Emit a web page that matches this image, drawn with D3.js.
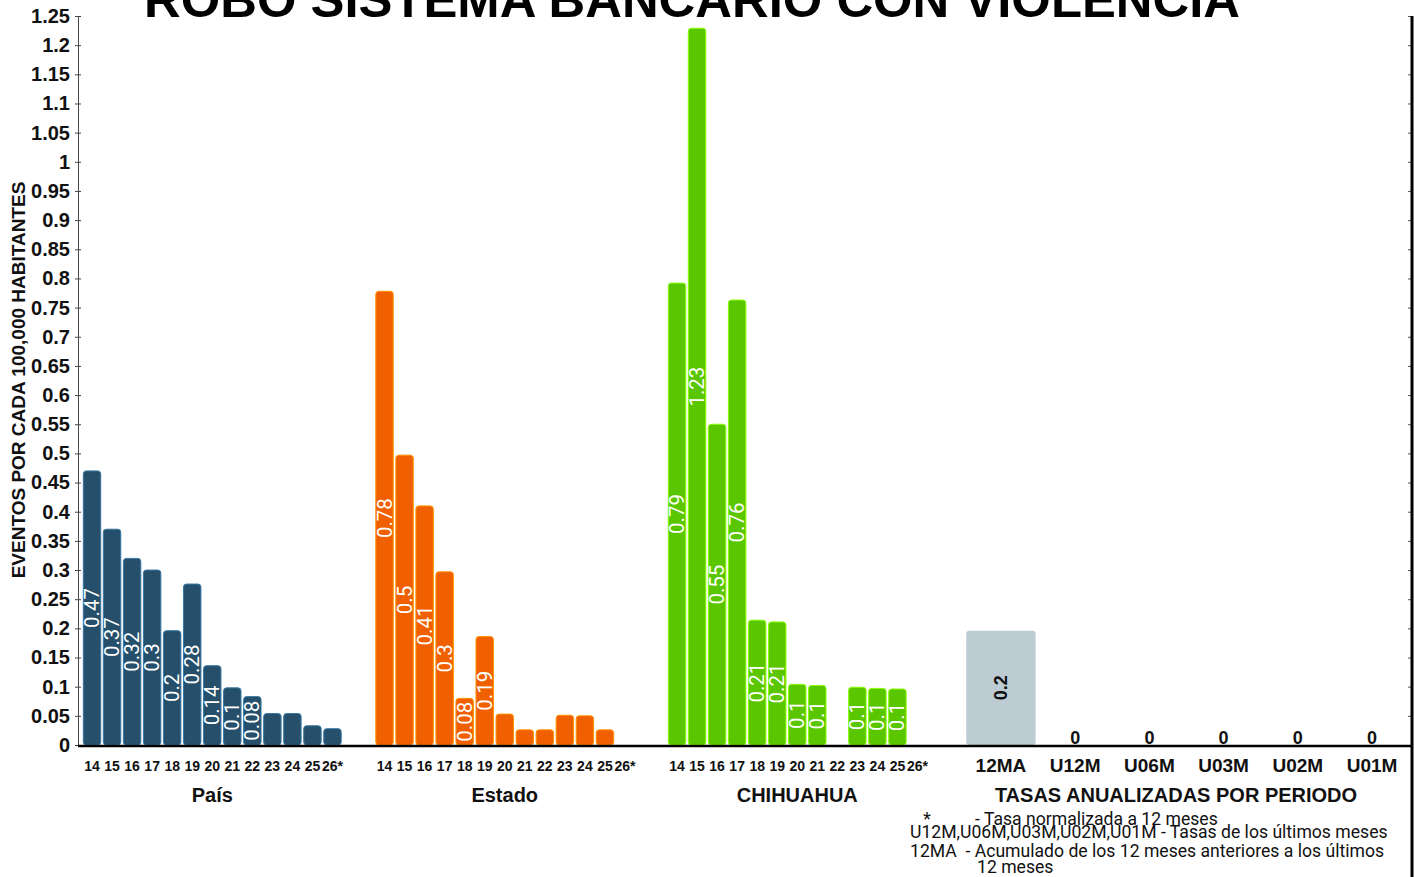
<!DOCTYPE html>
<html>
<head>
<meta charset="utf-8">
<script src="https://cdn.jsdelivr.net/npm/d3@7"></script>
<style>
  html, body { margin: 0; padding: 0; background: #fff; overflow: hidden; }
  svg { display: block; }
</style>
</head>
<body>
<svg id="chart" width="1414" height="877"></svg>
<script>
// ---------- DATA ----------
const title = "ROBO SISTEMA BANCARIO CON VIOLENCIA";
const yAxisTitle = "EVENTOS POR CADA 100,000 HABITANTES";
const years = ["14","15","16","17","18","19","20","21","22","23","24","25","26*"];
const groups = ["País", "Estado", "CHIHUAHUA"];
const paisValues      = [0.47, 0.37, 0.32, 0.30, 0.196, 0.276, 0.136, 0.098, 0.083, 0.054, 0.054, 0.033, 0.028];
const estadoValues    = [0.778, 0.497, 0.41, 0.297, 0.08, 0.186, 0.053, 0.026, 0.026, 0.051, 0.05, 0.026, 0];
const chihuahuaValues = [0.792, 1.229, 0.55, 0.763, 0.214, 0.211, 0.104, 0.102, 0, 0.099, 0.097, 0.096, 0];
const groupColors = ["#254f6b", "#f06000", "#59c600"];
const periods = ["12MA", "U12M", "U06M", "U03M", "U02M", "U01M"];
const periodValues = [0.196, 0, 0, 0, 0, 0];
const periodTitle = "TASAS ANUALIZADAS POR PERIODO";
const periodColor = "#bdcbd3";
const yTicks = d3.range(0, 26).map(i => i * 0.05);
const notes = [
  { t: "*", x: 927, y: 825, anchor: "middle" },
  { t: "- Tasa normalizada a 12 meses", x: 975, y: 825, anchor: "start" },
  { t: "U12M,U06M,U03M,U02M,U01M - Tasas de los últimos meses", x: 910, y: 838, anchor: "start" },
  { t: "12MA  - Acumulado de los 12 meses anteriores a los últimos", x: 910, y: 857, anchor: "start" },
  { t: "12 meses", x: 977, y: 873, anchor: "start" }
];

const seriesByGroup = [paisValues, estadoValues, chihuahuaValues];

// ---------- LAYOUT ----------
const svg = d3.select("#chart");
const plotLeft = 78, plotRight = 1411, baseY = 745, topY = 16;
const fmt = d3.format(".2~f");

const y = d3.scaleLinear().domain([0, 1.25]).range([baseY, topY]);
const xGroup = d3.scaleBand().domain(groups).range([66, 943.5]).padding(0);
const xYear = d3.scaleBand().domain(years).range([16, 276.5]).paddingInner(0.13).paddingOuter(0.065);
const xPeriod = d3.scaleBand().domain(periods).range([964, 1409]).paddingInner(0.065).paddingOuter(0.03);

// title
svg.append("text")
  .attr("x", 692).attr("y", 17)
  .attr("text-anchor", "middle")
  .attr("font-family", "Liberation Sans, Arial, sans-serif")
  .attr("font-weight", "bold").attr("font-size", 50.8)
  .attr("fill", "#000")
  .text(title);

// left axis
const yAxis = d3.axisLeft(y).tickValues(yTicks).tickFormat(fmt).tickSize(3).tickSizeOuter(0).tickPadding(5);
const gy = svg.append("g").attr("transform", `translate(${plotLeft},0)`).call(yAxis);
gy.select(".domain").attr("stroke", "#444").attr("stroke-width", 1);
gy.selectAll(".tick line").attr("stroke", "#444").attr("x1", 3);
gy.selectAll(".tick text")
  .attr("font-family", "Liberation Sans, Arial, sans-serif")
  .attr("font-weight", "bold").attr("font-size", 20).attr("fill", "#111");

// right axis
const yAxisR = d3.axisLeft(y).tickValues(yTicks).tickFormat("").tickSize(3).tickSizeOuter(0);
const gyr = svg.append("g").attr("transform", `translate(${plotRight},0)`).call(yAxisR);
gyr.select(".domain").remove();
gyr.selectAll(".tick line").attr("stroke", "#555");
svg.append("line")
  .attr("x1", plotRight + 1).attr("x2", plotRight + 1)
  .attr("y1", topY).attr("y2", 877)
  .attr("stroke", "#000").attr("stroke-width", 3);

// y axis title
svg.append("text")
  .attr("transform", `translate(25,380) rotate(-90)`)
  .attr("text-anchor", "middle")
  .attr("font-family", "Liberation Sans, Arial, sans-serif")
  .attr("font-weight", "bold").attr("font-size", 19)
  .attr("fill", "#111")
  .text(yAxisTitle);

// grouped year bars
groups.forEach((g, gi) => {
  const vals = seriesByGroup[gi];
  const color = groupColors[gi];
  const gg = svg.append("g").attr("transform", `translate(${xGroup(g)},0)`);
  const data = years.map((yr, i) => ({ yr, v: vals[i] }));

  gg.selectAll("rect").data(data.filter(d => d.v > 0)).join("rect")
    .attr("x", d => xYear(d.yr))
    .attr("y", d => y(d.v))
    .attr("width", xYear.bandwidth())
    .attr("height", d => y(0) - y(d.v))
    .attr("rx", 3).attr("ry", 3)
    .attr("fill", color)
    .attr("stroke", d3.color(color).brighter(1.2))
    .attr("stroke-width", 1);

  gg.selectAll("text.val").data(data.filter(d => d.v >= 0.06)).join("text")
    .attr("class", "val")
    .attr("transform", d => `translate(${xYear(d.yr) + xYear.bandwidth() / 2},${y(d.v / 2)}) rotate(-90)`)
    .attr("text-anchor", "middle")
    .attr("dominant-baseline", "central")
    .attr("font-family", "Roboto, sans-serif")
    .attr("font-size", 20.5)
    .attr("fill", "#fff")
    .text(d => fmt(d.v));

  gg.selectAll("text.yr").data(data).join("text")
    .attr("class", "yr")
    .attr("x", d => xYear(d.yr) + xYear.bandwidth() / 2)
    .attr("y", 771)
    .attr("text-anchor", "middle")
    .attr("font-family", "Liberation Sans, Arial, sans-serif")
    .attr("font-weight", "bold").attr("font-size", 14)
    .attr("fill", "#111")
    .text(d => d.yr);

  svg.append("text")
    .attr("x", xGroup(g) + xGroup.bandwidth() / 2)
    .attr("y", 802)
    .attr("text-anchor", "middle")
    .attr("font-family", "Liberation Sans, Arial, sans-serif")
    .attr("font-weight", "bold").attr("font-size", 20)
    .attr("fill", "#111")
    .text(g);
});

// period bars
const pdata = periods.map((p, i) => ({ p, v: periodValues[i] }));
svg.append("g").selectAll("rect").data(pdata.filter(d => d.v > 0)).join("rect")
  .attr("x", d => xPeriod(d.p))
  .attr("y", d => y(d.v))
  .attr("width", xPeriod.bandwidth())
  .attr("height", d => y(0) - y(d.v))
  .attr("rx", 3).attr("ry", 3)
  .attr("fill", periodColor);

svg.append("g").selectAll("text").data(pdata).join("text")
  .attr("transform", d => d.v > 0
    ? `translate(${xPeriod(d.p) + xPeriod.bandwidth() / 2},${y(d.v / 2)}) rotate(-90)`
    : `translate(${xPeriod(d.p) + xPeriod.bandwidth() / 2},${y(0) - 1})`)
  .attr("text-anchor", "middle")
  .attr("dominant-baseline", d => d.v > 0 ? "central" : "auto")
  .attr("font-family", "Liberation Sans, Arial, sans-serif")
  .attr("font-weight", "bold").attr("font-size", 18)
  .attr("fill", "#111")
  .text(d => fmt(d.v));

svg.append("g").selectAll("text").data(pdata).join("text")
  .attr("x", d => xPeriod(d.p) + xPeriod.bandwidth() / 2)
  .attr("y", 772)
  .attr("text-anchor", "middle")
  .attr("font-family", "Liberation Sans, Arial, sans-serif")
  .attr("font-weight", "bold").attr("font-size", 19)
  .attr("fill", "#111")
  .text(d => d.p);

svg.append("text")
  .attr("x", 1176).attr("y", 802)
  .attr("text-anchor", "middle")
  .attr("font-family", "Liberation Sans, Arial, sans-serif")
  .attr("font-weight", "bold").attr("font-size", 20)
  .attr("fill", "#111")
  .text(periodTitle);

// baseline
svg.append("line")
  .attr("x1", plotLeft).attr("x2", plotRight)
  .attr("y1", y(0) + 1).attr("y2", y(0) + 1)
  .attr("stroke", "#000").attr("stroke-width", 2.5);

// notes
svg.append("g").selectAll("text").data(notes).join("text")
  .attr("x", d => d.x).attr("y", d => d.y)
  .attr("text-anchor", d => d.anchor)
  .attr("font-family", "Roboto, sans-serif")
  .attr("font-size", 17.6)
  .attr("fill", "#111")
  .style("white-space", "pre")
  .text(d => d.t);
</script>
</body>
</html>
